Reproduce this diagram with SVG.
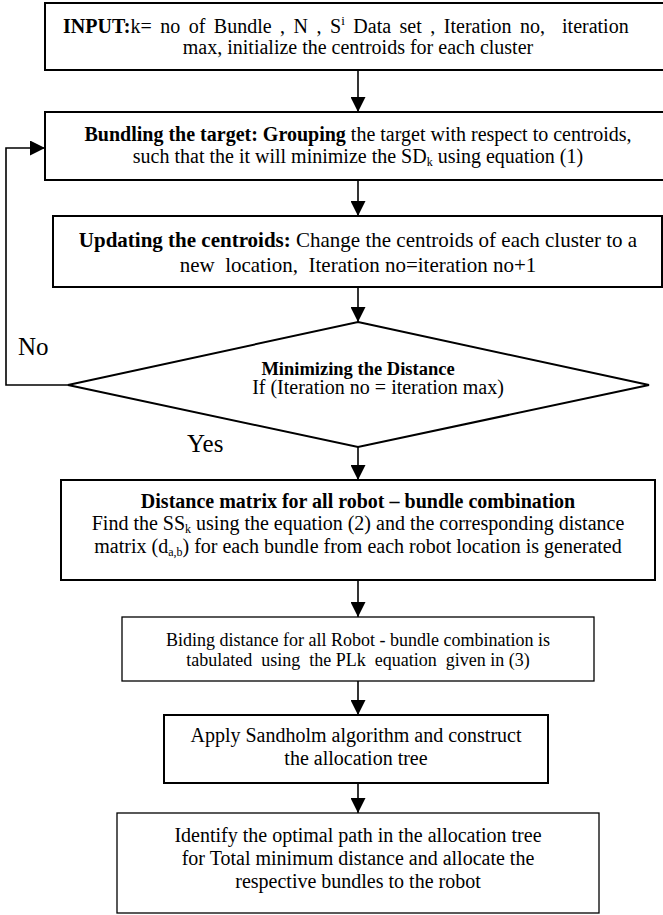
<svg xmlns="http://www.w3.org/2000/svg" width="663" height="915" viewBox="0 0 663 915">
<style>
text { font-family: "Liberation Serif", "Times New Roman", serif; fill: #000; }
.box { fill: #fff; stroke: #000; stroke-width: 2; }
.thin { stroke-width: 1.3; }
.c { text-anchor: middle; }
.b { font-weight: bold; }
.f20 { font-size: 20px; }
.f21 { font-size: 21px; }
.f18 { font-size: 18px; }
.lbl { font-size: 25px; }
.sub { font-size: 12px; }
.conn { fill: none; stroke: #000; stroke-width: 1.6; }
</style>
<defs>
<marker id="ah" markerUnits="userSpaceOnUse" markerWidth="15" markerHeight="15" refX="15" refY="7.5" orient="auto">
<path d="M0,0 L15,7.5 L0,15 z" fill="#000"/>
</marker>
</defs>
<rect x="0" y="0" width="663" height="915" fill="#fff"/>

<g id="connectors">
<line class="conn" x1="358" y1="70" x2="358" y2="112" marker-end="url(#ah)"/>
<line class="conn" x1="358" y1="180" x2="358" y2="216" marker-end="url(#ah)"/>
<line class="conn" x1="358" y1="287" x2="358" y2="322" marker-end="url(#ah)"/>
<line class="conn" x1="358" y1="447" x2="358" y2="480" marker-end="url(#ah)"/>
<line class="conn" x1="358" y1="580" x2="358" y2="617" marker-end="url(#ah)"/>
<line class="conn" x1="358" y1="681" x2="358" y2="715" marker-end="url(#ah)"/>
<line class="conn" x1="358" y1="783" x2="358" y2="813" marker-end="url(#ah)"/>
<polyline class="conn" points="68,385 6,385 6,148 45,148" marker-end="url(#ah)"/>
<text class="lbl" x="18" y="355">No</text>
<text class="lbl" x="187" y="452">Yes</text>
</g>

<g id="input">
<rect class="box" x="45" y="3" width="626" height="67"/>
<text class="f20" x="63" y="33" xml:space="preserve" word-spacing="3.5"><tspan class="b">INPUT:</tspan>k= no of Bundle , N , S<tspan font-size="13" dy="-8">i</tspan><tspan dy="8"> Data set , Iteration no,  iteration</tspan></text>
<text class="f20 c" x="358" y="54">max, initialize the centroids for each cluster</text>
</g>

<g id="bundling">
<rect class="box" x="45" y="112" width="626" height="68"/>
<text class="f20 c" x="358" y="141"><tspan class="b">Bundling the target: Grouping</tspan> the target with respect to centroids,</text>
<text class="f20 c" x="358" y="163">such that the it will minimize the SD<tspan class="sub" dy="3">k</tspan><tspan dy="-3"> using equation (1)</tspan></text>
</g>

<g id="updating">
<rect class="box" x="53" y="216" width="609" height="71"/>
<text class="f21 c" x="358" y="247"><tspan class="b">Updating the centroids:</tspan> Change the centroids of each cluster to a</text>
<text class="f21 c" x="358" y="272" xml:space="preserve">new  location,  Iteration no=iteration no+1</text>
</g>

<g id="decision">
<polygon class="box" points="358,322 649,385 358,447 68,385"/>
<text class="c b" font-size="18.5" x="358" y="375">Minimizing the Distance</text>
<text class="f20 c" x="378" y="394">If (Iteration no = iteration max)</text>
</g>

<g id="distance-matrix">
<rect class="box" x="61" y="480" width="594" height="100"/>
<text class="f20 c b" x="358" y="508">Distance matrix for all robot – bundle combination</text>
<text class="f20 c" x="358" y="530">Find the SS<tspan class="sub" dy="3">k</tspan><tspan dy="-3"> using the equation (2) and the corresponding distance</tspan></text>
<text class="f20 c" x="358" y="553">matrix (d<tspan class="sub" dy="3">a,b</tspan><tspan dy="-3">) for each bundle from each robot location is generated</tspan></text>
</g>

<g id="biding">
<rect class="box thin" x="122" y="617" width="472" height="64"/>
<text class="f18 c" x="358" y="646">Biding distance for all Robot - bundle combination is</text>
<text class="f18 c" x="358" y="666" xml:space="preserve">tabulated  using  the PLk  equation  given in (3)</text>
</g>

<g id="sandholm">
<rect class="box" x="164" y="715" width="384" height="68"/>
<text class="f20 c" x="356" y="742">Apply Sandholm algorithm and construct</text>
<text class="f20 c" x="356" y="765">the allocation tree</text>
</g>

<g id="optimal-path">
<rect class="box thin" x="117" y="813" width="482" height="100"/>
<text class="f20 c" x="358" y="842">Identify the optimal path in the allocation tree</text>
<text class="f20 c" x="358" y="865">for Total minimum distance and allocate the</text>
<text class="f20 c" x="358" y="888">respective bundles to the robot</text>
</g>
</svg>
